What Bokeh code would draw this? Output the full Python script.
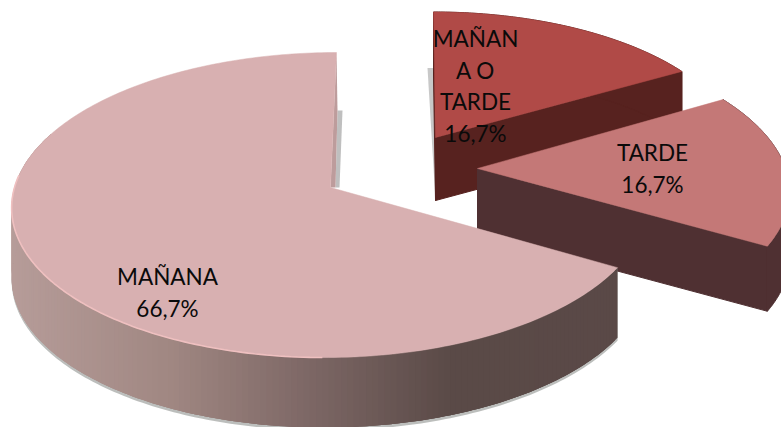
import numpy as np
from bokeh.plotting import figure
from bokeh.models import Range1d
from bokeh.core.properties import value
from bokeh.embed import file_html
from bokeh.resources import INLINE

# data
categories = ["MAÑANA", "MAÑANA O TARDE", "TARDE"]
shares = [66.7, 16.7, 16.7]
pct_labels = ["66,7%", "16,7%", "16,7%"]

# label layout: one list of lines per slice
label_lines = [["MAÑANA", "66,7%"], ["MAÑAN", "A O", "TARDE", "16,7%"], ["TARDE", "16,7%"]]
label_pos = [(167, 276), (475, 38), (652, 152)]
LINE_H = 31.5

# style / projection
RX, RY, K = 316.0, 150.5, 0.115
SCALE_X = [1.0, 0.955, 0.975]
SCALE_Y = [1.0, 0.93, 0.97]
DEPTH = [70, 63, 65]
APEX = [(330, 187), (435, 137), (477, 168)]
SKEW = [6, -2, -14]
FACE = ["#d8b0b1", "#b04a47", "#c47877"]
WALL = [None, "#57221f", "#4f3032"]
GRAD_X = [12, 170, 300, 450, 620]
GRAD_C = [(182, 156, 153), (160, 135, 130), (127, 105, 103), (90, 74, 71), (90, 73, 71)]

total = sum(shares)
sweep = [s / total * 360 for s in shares]
span = [(360 - sweep[0], 360.0),
        (0.0, sweep[1]),
        (sweep[1], sweep[1] + sweep[2])]


def project(i, deg):
    t = np.radians(np.asarray(deg, float))
    u, v = np.sin(t), np.cos(t)
    w = 1 + K * v
    ax, ay = APEX[i]
    return ax + SCALE_X[i] * RX * u / w + SKEW[i] * v, ay - SCALE_Y[i] * RY * v / w


def hexc(c):
    return "#%02x%02x%02x" % tuple(int(round(a)) for a in c)


def grad(x):
    return hexc([np.interp(x, GRAD_X, [c[j] for c in GRAD_C]) for j in range(3)])


p = figure(width=781, height=427, x_range=Range1d(0, 781), y_range=Range1d(427, 0),
           output_backend="svg", toolbar_location=None, min_border=0)
p.axis.visible = False
p.grid.visible = False
p.outline_line_color = None
p.background_fill_color = "white"
p.border_fill_color = "white"


def arc(i, n=120):
    return np.linspace(span[i][0], span[i][1], n)


def draw_plain(i):
    """Exploded small slice: walls then face."""
    d = DEPTH[i]
    ax, ay = APEX[i]
    a = arc(i)
    x, y = project(i, a)
    if i == 1:
        p.patch([ax - 8, ax - 2, ax + 2, ax], [y[0] + 56, y[0] + 56, ay + d, ay + d],
                fill_color="#9a9a9a", fill_alpha=0.55, line_color=None)
    ex, ey = x[-1], y[-1]
    p.patch([ax, ex, ex, ax], [ay, ey, ey + d, ay + d], fill_color=WALL[i], line_color=WALL[i])
    p.patch(np.r_[x, x[::-1]], np.r_[y, (y + d)[::-1]], fill_color=WALL[i], line_color=WALL[i])
    if i == 1:
        sx, sy = x[0], y[0]
        p.patch([ax, sx, sx, ax], [ay, sy, sy + d, ay + d], fill_color=WALL[i], line_color=WALL[i])
    p.patch(np.r_[ax, x], np.r_[ay, y], fill_color=FACE[i], line_color=FACE[i], line_width=0.5)


draw_plain(1)
draw_plain(2)

# MAÑANA: gradient wall, face
d = DEPTH[0]
ax, ay = APEX[0]
a = arc(0, 240)
x, y = project(0, a)
front = a <= 292
fx, fy = x[front], y[front]
p.patch(np.r_[fx, fx[::-1]], np.r_[fy, (fy + d + 3)[::-1]], fill_color="#8f9290", fill_alpha=0.6, line_color=None)
xs, ys, cols = [], [], []
for k in range(len(fx) - 1):
    e = min(k + 3, len(fx) - 1)  # overlap the next strips so no seams show
    xs.append(np.r_[fx[k:e + 1], fx[k:e + 1][::-1]])
    ys.append(np.r_[fy[k:e + 1], (fy[k:e + 1] + d)[::-1]])
    cols.append(grad((fx[k] + fx[k + 1]) / 2))
p.patches(xs, ys, fill_color=cols, line_color=None)
# shadow in the notch at the top radius
tx, ty = x[-1], y[-1]
p.patch([tx + 1, tx + 6, ax + 9, ax + 5], [ay - 77, ay - 77, ay, ay],
        fill_color="#a4a4a4", fill_alpha=0.7, line_color=None)
p.patch([tx, tx + 1, ax + 5, ax], [ty, ay - 77, ay, ay],
        fill_color="#bd9c9c", line_color=None)
p.patch(np.r_[ax, x], np.r_[ay, y], fill_color=FACE[0], line_color=FACE[0], line_width=0.5)
rim = (a > 180) & (a < 275)
p.line(x[rim], y[rim], line_color="#efc0c0", line_width=1.6)

for lines, (lx, ly) in zip(label_lines, label_pos):
    for n, line in enumerate(lines):
        p.text([lx], [ly + n * LINE_H], text=[line], text_align="center", text_baseline="middle",
               text_font=value("Lato"), text_font_size="22.5px", text_color="#0a0a0a")

open("out.html", "w").write(file_html(p, INLINE))
